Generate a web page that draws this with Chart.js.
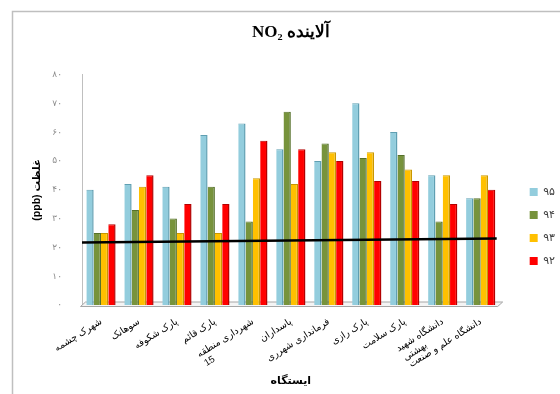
<!DOCTYPE html>
<html>
<head>
<meta charset="utf-8">
<script src="https://cdn.jsdelivr.net/npm/chart.js@4/dist/chart.umd.min.js"></script>
<style>
  html, body { margin: 0; padding: 0; background: #fff; }
  #wrap { width: 560px; height: 394px; position: relative; }
</style>
</head>
<body>
<div id="wrap"><canvas id="c" width="560" height="394"></canvas></div>
<script>
// Monitoring stations (x categories)
const stations = [
  'شهرک چشمه',
  'سوهانک',
  'پارک شکوفه',
  'پارک قائم',
  ['شهرداری منطقه', '15'],
  'پاسداران',
  'فرمانداری شهرری',
  'پارک رازی',
  'پارک سلامت',
  ['دانشگاه شهید', 'بهشتی'],
  'دانشگاه علم و صنعت'
];

// NO2 concentration (ppb) per year
const year95 = [40, 42, 41, 59, 63, 54, 50, 70, 60, 45, 37];
const year94 = [25, 33, 30, 41, 29, 67, 56, 51, 52, 29, 37];
const year93 = [25, 41, 25, 25, 44, 42, 53, 53, 47, 45, 45];
const year92 = [28, 45, 35, 35, 57, 54, 50, 43, 43, 35, 40];

const yearLabels = ['۹۵', '۹۴', '۹۳', '۹۲'];
const yTickLabels = ['۰', '۱۰', '۲۰', '۳۰', '۴۰', '۵۰', '۶۰', '۷۰', '۸۰'];

// Reference line: value at the left and right edges of the plot
const lineStart = 21.7;
const lineEnd = 23.1;

const fills = ['#93CDDD', '#77933C', '#FFC000', '#FF0000'];
const edges = ['#5F9FB2', '#55702A', '#C99700', '#B30000'];
const seriesValues = [year95, year94, year93, year92];

const fontSans = 'Arial, "Liberation Sans", "DejaVu Sans", sans-serif';
const xTickSize = 9.5;

// Wrapped station names: the continuation line sits under the far end
// of the first line, so pad it to the first line's width
const measureCtx = document.createElement('canvas').getContext('2d');
function wrapLabel(lines) {
  measureCtx.font = xTickSize + 'px ' + fontSans;
  const full = measureCtx.measureText(lines[0]).width;
  return lines.map((s, i) => {
    if (i === 0) return s;
    let t = s;
    while (measureCtx.measureText(t + ' ').width <= full) t += ' ';
    return t;
  });
}

const barSets = seriesValues.map((vals, i) => ({
  label: yearLabels[i],
  data: vals,
  backgroundColor: fills[i],
  borderColor: edges[i],
  borderWidth: { top: 1, right: 1.5, left: 0, bottom: 0 },
  borderSkipped: 'bottom',
  categoryPercentage: 0.77,
  barPercentage: 1.0
}));

// Outer frame and the 3D-style floor under the bars
const decor = {
  id: 'decor',
  beforeDraw(chart) {
    const ctx = chart.ctx;
    ctx.save();
    ctx.strokeStyle = '#BFBFBF';
    ctx.lineWidth = 1.5;
    ctx.beginPath();
    ctx.moveTo(12.5, 394);
    ctx.lineTo(12.5, 11.5);
    ctx.lineTo(560, 11.5);
    ctx.stroke();
    ctx.restore();
  },
  beforeDatasetsDraw(chart) {
    const ctx = chart.ctx, a = chart.chartArea;
    ctx.save();
    ctx.fillStyle = '#F4F4F4';
    ctx.strokeStyle = '#A6A6A6';
    ctx.lineWidth = 1;
    ctx.beginPath();
    ctx.moveTo(a.left - 1.5, a.bottom + 1.5);
    ctx.lineTo(a.right - 2, a.bottom + 1.5);
    ctx.lineTo(a.right + 3, a.bottom - 3);
    ctx.lineTo(a.left + 3.5, a.bottom - 3);
    ctx.closePath();
    ctx.fill();
    ctx.stroke();
    ctx.restore();
  }
};

// Reference line across the plot, positioned with the value scale
const refLine = {
  id: 'refLine',
  afterDatasetsDraw(chart) {
    const ctx = chart.ctx, a = chart.chartArea, y = chart.scales.y;
    ctx.save();
    ctx.strokeStyle = '#000';
    ctx.lineWidth = 2.5;
    ctx.beginPath();
    ctx.moveTo(a.left, y.getPixelForValue(lineStart));
    ctx.lineTo(a.right - 3, y.getPixelForValue(lineEnd));
    ctx.stroke();
    ctx.restore();
  }
};

// Place the legend block beside the middle of the bars
const legendShift = {
  id: 'legendShift',
  afterLayout(chart) {
    const lg = chart.legend;
    if (lg) { lg.top += 22; lg.bottom += 22; lg.left += 18; lg.right += 18; }
  }
};

new Chart(document.getElementById('c'), {
  type: 'bar',
  data: { labels: stations, datasets: barSets },
  plugins: [decor, refLine, legendShift],
  options: {
    responsive: false,
    animation: false,
    layout: { padding: { left: 13, top: 15, right: 13, bottom: 0 } },
    plugins: {
      title: {
        display: true,
        fullSize: false,
        text: 'NO₂ آلاینده',
        color: '#000',
        font: { family: '"Liberation Serif", "Times New Roman", "DejaVu Serif", serif', size: 17, weight: 'bold' },
        padding: { top: 7, bottom: 32 }
      },
      legend: {
        position: 'right',
        labels: {
          boxWidth: 8,
          boxHeight: 8,
          padding: 12,
          color: '#404040',
          font: { family: fontSans, size: 11 },
          generateLabels: chart => chart.data.datasets.map((ds, i) => ({
            text: ds.label,
            fillStyle: ds.backgroundColor,
            strokeStyle: ds.backgroundColor,
            lineWidth: 0,
            hidden: false,
            datasetIndex: i,
            fontColor: '#404040'
          }))
        }
      },
      tooltip: { enabled: false }
    },
    scales: {
      x: {
        grid: { display: false },
        border: { display: false },
        ticks: {
          autoSkip: false,
          minRotation: 32,
          maxRotation: 32,
          color: '#000',
          font: { family: fontSans, size: xTickSize },
          callback: (v, i) => Array.isArray(stations[i]) ? wrapLabel(stations[i]) : stations[i]
        },
        title: {
          display: true,
          text: 'ایستگاه',
          color: '#000',
          font: { family: fontSans, size: 11, weight: 'bold' },
          padding: { top: 0, bottom: 6 }
        },
        afterFit(scale) { scale.height = 89; }
      },
      y: {
        min: 0,
        max: 80,
        grid: { display: false },
        border: { display: true, color: '#BFBFBF', width: 1 },
        ticks: {
          stepSize: 10,
          padding: 12,
          color: '#8C8C8C',
          font: { family: fontSans, size: 9 },
          callback: (v, i) => yTickLabels[i]
        },
        title: {
          display: true,
          text: '(ppb) غلظت',
          color: '#000',
          font: { family: fontSans, size: 10.5, weight: 'bold' },
          padding: { top: 18, bottom: 0 }
        },
        afterFit(scale) { scale.width = 69; }
      }
    }
  }
});
</script>
</body>
</html>
